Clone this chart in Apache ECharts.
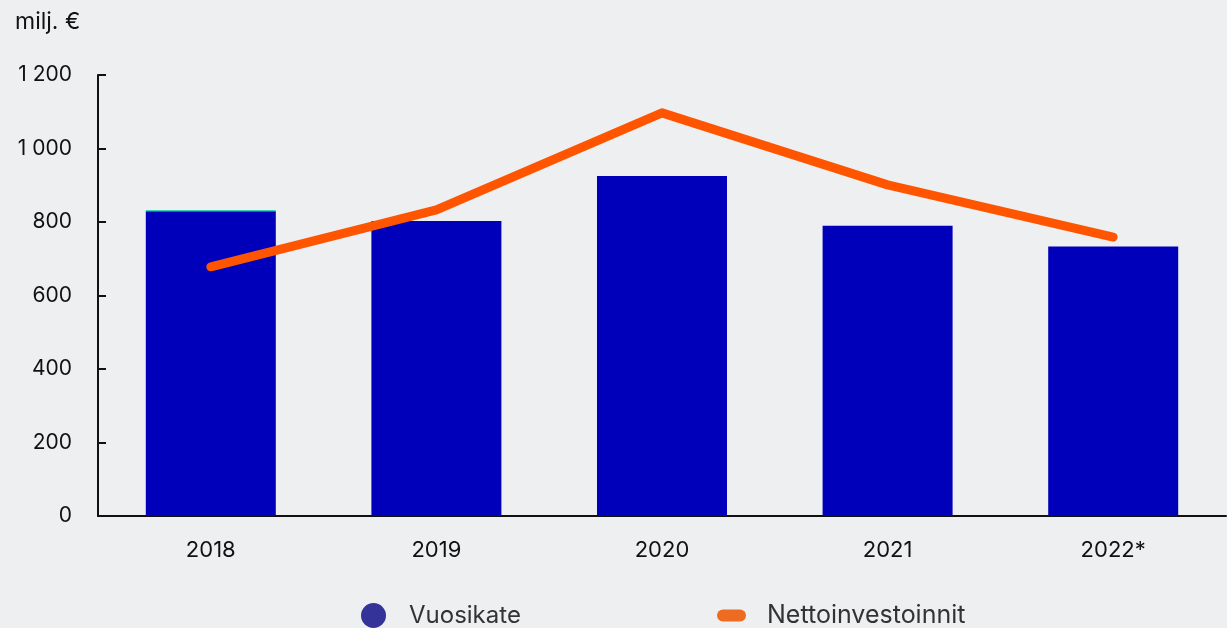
<!DOCTYPE html>
<html><head><meta charset="utf-8">
<script src="https://cdn.jsdelivr.net/npm/echarts@6/dist/echarts.min.js"></script>
<style>html,body{margin:0;padding:0;background:#eeeff1}#c{width:1227px;height:628px}</style>
</head><body><div id="c"></div>
<script>
const categories = ['2018', '2019', '2020', '2021', '2022*'];
const vuosikate = [829, 803, 925, 790, 733];
const topEdge = [3, 0, 0, 0, 0];
const nettoinvestoinnit = [678, 833, 1097, 901, 759];
const yTicks = [0, 200, 400, 600, 800, 1000, 1200];

const fontFam = 'Inter, Roboto, sans-serif';
const chart = echarts.init(document.getElementById('c'));
chart.setOption({
  backgroundColor: '#eeeff1',
  animation: false,
  title: { text: 'milj. €', left: 10, top: 6, textStyle: { fontFamily: fontFam, fontSize: 23, fontWeight: 'normal', color: '#111' } },
  legend: [
    { left: 356, top: 598, itemWidth: 25, itemHeight: 25, data: [{ name: 'Vuosikate', icon: 'circle', itemStyle: { color: '#333399' } }],
      textStyle: { fontFamily: fontFam, fontSize: 24, color: '#333', padding: [0, 0, 0, 18] } },
    { left: 712, top: 598, itemWidth: 29, itemHeight: 12, data: [{ name: 'Nettoinvestoinnit', icon: 'path://M6,0 L23,0 A6,6 0 0 1 23,12 L6,12 A6,6 0 0 1 6,0 Z', itemStyle: { color: '#ee6c22' } }],
      textStyle: { fontFamily: fontFam, fontSize: 25, color: '#333', padding: [0, 0, 0, 16] } }
  ],
  grid: { left: 98, right: 1, top: 75, bottom: 112 },
  xAxis: {
    type: 'category', data: categories,
    axisLine: { lineStyle: { color: '#111', width: 2 } },
    axisTick: { show: false },
    axisLabel: { fontFamily: fontFam, fontSize: 22, color: '#111', margin: 23 }
  },
  yAxis: {
    type: 'value', min: yTicks[0], max: yTicks[yTicks.length - 1], interval: 200,
    axisLine: { show: true, lineStyle: { color: '#111', width: 2 } },
    axisTick: { show: true, inside: true, length: 8, lineStyle: { color: '#111', width: 2 } },
    splitLine: { show: false },
    axisLabel: { fontFamily: fontFam, fontSize: 21, color: '#111', margin: 26,
      formatter: v => v >= 1000 ? Math.floor(v / 1000) + ' ' + String(v % 1000).padStart(3, '0') : String(v) }
  },
  series: [
    { name: 'Vuosikate', type: 'bar', stack: 'a', barWidth: 130, data: vuosikate, itemStyle: { color: '#0000bb' } },
    { name: 'edge', type: 'bar', stack: 'a', barWidth: 130, data: topEdge, itemStyle: { color: '#00c8a0' } },
    { name: 'Nettoinvestoinnit', type: 'line', data: nettoinvestoinnit, symbol: 'none',
      lineStyle: { color: '#ff5500', width: 9, cap: 'round', join: 'round' }, itemStyle: { color: '#ff5500' }, z: 5 }
  ]
});
</script></body></html>
